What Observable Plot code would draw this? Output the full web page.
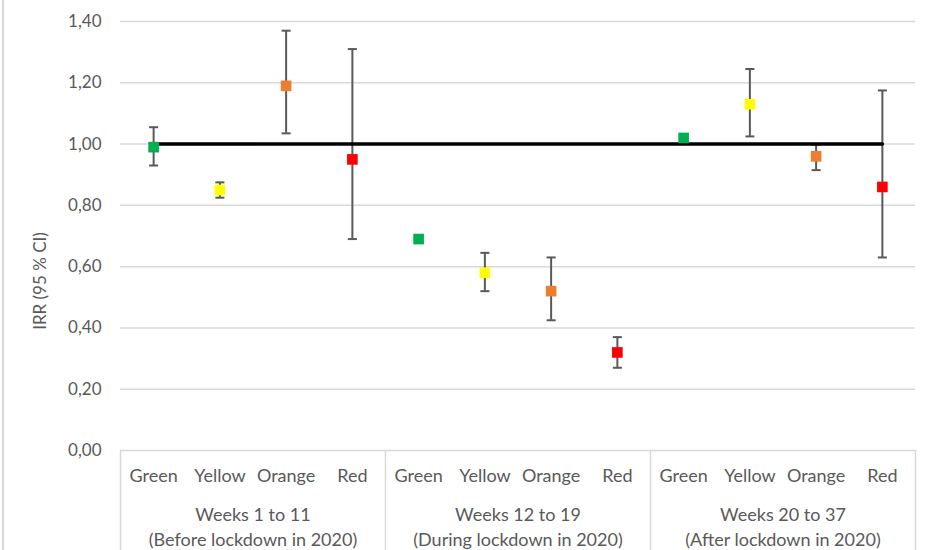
<!DOCTYPE html>
<html>
<head>
<meta charset="utf-8">
<script src="https://cdn.jsdelivr.net/npm/d3@7"></script>
<script src="https://cdn.jsdelivr.net/npm/@observablehq/plot@0.6"></script>
<style>
  body { margin: 0; background: #fff; }
</style>
</head>
<body>
<div id="chart"></div>
<script>
// Study periods (two-line group labels) and triage levels within each period
const periods = [
  "Weeks 1 to 11\n(Before lockdown in 2020)",
  "Weeks 12 to 19\n(During lockdown in 2020)",
  "Weeks 20 to 37\n(After lockdown in 2020)"
];
const levels = ["Green", "Yellow", "Orange", "Red"];
const levelColors = ["#00b050", "#ffff00", "#ed7d31", "#ff0000"];

// Incidence rate ratios with 95 % confidence limits, period by period, level by level
const irr    = [0.99, 0.85, 1.19, 0.95,  0.69, 0.58, 0.52, 0.32,  1.02, 1.13, 0.96, 0.86];
const ciLow  = [0.93, 0.825, 1.035, 0.69, 0.68, 0.52, 0.425, 0.27, 1.01, 1.025, 0.915, 0.63];
const ciHigh = [1.055, 0.875, 1.37, 1.31, 0.70, 0.645, 0.63, 0.37, 1.03, 1.245, 0.998, 1.175];

// Reference value (IRR = 1) and y-axis ticks
const reference = 1;
const yTicks = [0, 0.2, 0.4, 0.6, 0.8, 1.0, 1.2, 1.4];

const W = 928, H = 550;
const margin = {top: 21, right: 13, bottom: 100, left: 120};
const textColor = "#595959";
const gridColor = "#d9d9d9";

const rows = periods.flatMap((period, p) =>
  levels.map((level, l) => {
    const i = p * levels.length + l;
    return {i, period, level, irr: irr[i], low: ciLow[i], high: ciHigh[i], ref: reference};
  })
);

const periodSpans = periods.map(period => {
  const idx = rows.filter(r => r.period === period).map(r => r.i);
  return {period, start: d3.min(idx) - 0.5, end: d3.max(idx) + 0.5, mid: d3.mean(idx)};
});
const dividers = [periodSpans[0].start, ...periodSpans.map(d => d.end)];

// Marker colour for each triage level
const levelColor = d => levelColors[levels.indexOf(d.level)];

// Short horizontal stroke used as the error-bar cap
const capSymbol = {
  draw(context, size) {
    const w = Math.sqrt(size) / 2;
    context.moveTo(-w, 0);
    context.lineTo(w, 0);
  }
};

const commaFormat = v => d3.format(".2f")(v).replace(".", ",");

const chart = Plot.plot({
  width: W,
  height: H,
  marginTop: margin.top,
  marginRight: margin.right,
  marginBottom: margin.bottom,
  marginLeft: margin.left,
  style: {
    fontFamily: "Lato, 'Open Sans', sans-serif",
    fontSize: "17px",
    color: textColor,
    background: `linear-gradient(to right, #fff 2px, ${gridColor} 2px, ${gridColor} 4px, #fff 4px)`
  },
  x: {axis: null, domain: [periodSpans[0].start, periodSpans[periodSpans.length - 1].end]},
  y: {domain: [0, 1.4]},
  marks: [
    Plot.gridY(yTicks, {stroke: gridColor, strokeOpacity: 1, strokeWidth: 1.5}),
    Plot.axisY(yTicks, {
      tickSize: 0,
      tickPadding: 19,
      tickFormat: commaFormat,
      label: null,
      fontSize: 17,
      fill: textColor
    }),
    // Category box below the plot area
    Plot.ruleX(dividers, {
      x: d => d, y1: 0, y2: 0,
      insetBottom: -margin.bottom,
      stroke: gridColor, strokeWidth: 1.5
    }),
    // 95 % confidence intervals
    Plot.ruleX(rows, {x: "i", y1: "low", y2: "high", stroke: textColor, strokeWidth: 2}),
    Plot.dot(rows, {x: "i", y: "low", symbol: capSymbol, r: 5.1, stroke: textColor, strokeWidth: 2, fill: "none"}),
    Plot.dot(rows, {x: "i", y: "high", symbol: capSymbol, r: 5.1, stroke: textColor, strokeWidth: 2, fill: "none"}),
    // Reference line IRR = 1
    Plot.line(rows, {x: "i", y: "ref", stroke: "#000", strokeWidth: 3.5}),
    // Point estimates
    Plot.dot(rows, {x: "i", y: "irr", symbol: "square", r: 6, fill: levelColor, stroke: "none"}),
    // Triage level labels
    Plot.text(rows, {x: "i", text: "level", frameAnchor: "bottom", lineAnchor: "middle", dy: 26, fontSize: 18, fill: textColor}),
    // Period labels
    Plot.text(periodSpans, {x: "mid", text: "period", frameAnchor: "bottom", lineAnchor: "middle", dy: 74.5, lineHeight: 1.39, fontSize: 18, fill: textColor}),
    // Y-axis title
    Plot.text(["IRR (95 % CI)"], {
      frameAnchor: "left", rotate: -90, dx: -80, dy: 45,
      textAnchor: "middle", fontSize: 17, fill: textColor
    })
  ]
});

document.getElementById("chart").append(chart);
</script>
</body>
</html>
